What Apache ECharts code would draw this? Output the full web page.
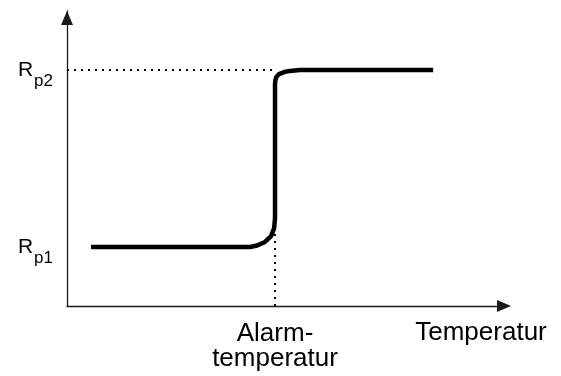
<!DOCTYPE html>
<html>
<head>
<meta charset="utf-8">
<script src="https://cdn.jsdelivr.net/npm/echarts@6/dist/echarts.min.js"></script>
<style>
  html, body { margin: 0; padding: 0; background: #fff; }
  #chart { width: 561px; height: 376px; }
</style>
</head>
<body>
<div id="chart"></div>
<script>
// Resistance levels (relative units) and the alarm temperature
const rp1 = 20;
const rp2 = 80;
const alarmTemp = 47.6;

// Switching curve: resistance vs temperature, [temperature, resistance]
const curveT = [5.5, 41.9, 43.5, 45.3, 46.7, 47.4, 47.6, 47.6, 47.7, 47.9, 48.5, 49.7, 51.0, 53.3, 83.8];
const curveR = [20, 20, 20.5, 21.7, 23.7, 26.4, 29.8, 75.3, 76.6, 77.6, 78.6, 79.3, 79.7, 80, 80];

// Tick labels
const yLabels = { 20: '{r|R}{s|p1}', 80: '{r|R}{s|p2}' };
const alarmLabel = 'Alarm-\ntemperatur';
const xName = 'Temperatur';

const curve = curveT.map((t, i) => [t, curveR[i]]);
const font = '"Liberation Sans", Arial, sans-serif';

const chart = echarts.init(document.getElementById('chart'), null, { renderer: 'canvas' });

chart.setOption({
  backgroundColor: '#fff',
  animation: false,
  grid: { left: 67, right: 57, top: 11, bottom: 70, containLabel: false },
  xAxis: {
    type: 'value',
    min: 0,
    max: 100,
    splitLine: { show: false },
    axisTick: { show: false },
    axisLine: {
      onZero: false,
      symbol: ['none', 'triangle'],
      symbolSize: [12, 14],
      symbolOffset: [0, 0],
      lineStyle: { color: '#1a1a1a', width: 1.3 }
    },
    axisLabel: {
      customValues: [alarmTemp],
      formatter: () => alarmLabel,
      margin: 15,
      color: '#000',
      fontFamily: font,
      fontSize: 26,
      lineHeight: 25,
      align: 'center'
    },
    name: xName,
    nameLocation: 'end',
    nameGap: -23,
    nameTextStyle: {
      color: '#000',
      fontFamily: font,
      fontSize: 26,
      align: 'center',
      verticalAlign: 'top',
      padding: [14, 0, 0, 0]
    }
  },
  yAxis: {
    type: 'value',
    min: 0,
    max: 100,
    splitLine: { show: false },
    axisTick: { show: false },
    axisLine: {
      onZero: false,
      symbol: ['none', 'triangle'],
      symbolSize: [12, 14],
      symbolOffset: [0, -7],
      lineStyle: { color: '#1a1a1a', width: 1.3 }
    },
    axisLabel: {
      customValues: [rp1, rp2],
      formatter: v => yLabels[v] || '',
      margin: 14,
      color: '#000',
      fontFamily: font,
      rich: {
        r: { fontSize: 21, fontFamily: font, color: '#000', verticalAlign: 'middle' },
        s: { fontSize: 17, fontFamily: font, color: '#000', lineHeight: 17, padding: [22, 0, 0, 1] }
      }
    }
  },
  series: [
    {
      // dotted guide at Rp2 up to the alarm temperature
      type: 'line',
      data: [[0, rp2], [alarmTemp, rp2]],
      symbol: 'none',
      silent: true,
      lineStyle: { color: '#000', width: 2, type: [2, 5] }
    },
    {
      // dotted guide down from the curve to the temperature axis
      type: 'line',
      data: [[alarmTemp, 0], [alarmTemp, 26.4]],
      symbol: 'none',
      silent: true,
      lineStyle: { color: '#000', width: 2, type: [2, 5] }
    },
    {
      type: 'line',
      data: curve,
      symbol: 'none',
      smooth: false,
      lineStyle: { color: '#000', width: 4.5, cap: 'butt', join: 'round' }
    }
  ]
});
</script>
</body>
</html>
